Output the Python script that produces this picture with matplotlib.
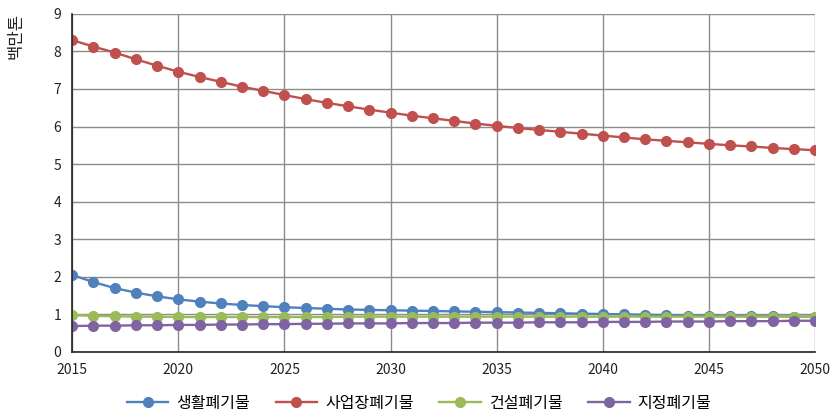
import numpy as np
import matplotlib.pyplot as plt

plt.rcParams['font.family'] = ['Noto Sans CJK KR', 'DejaVu Sans']

years = list(range(2015, 2051))

# 연도별 폐기물 발생량 전망 (백만톤)
saenghwal = [2.05, 1.86, 1.70, 1.58, 1.48, 1.40, 1.34, 1.29, 1.25, 1.22,
             1.19, 1.17, 1.15, 1.13, 1.12, 1.11, 1.10, 1.09, 1.08, 1.07,
             1.06, 1.05, 1.04, 1.03, 1.02, 1.01, 1.00, 0.99, 0.98, 0.97,
             0.96, 0.96, 0.95, 0.95, 0.94, 0.94]
saeopjang = [8.30, 8.13, 7.97, 7.79, 7.62, 7.46, 7.32, 7.19, 7.06, 6.95,
             6.84, 6.73, 6.63, 6.54, 6.45, 6.37, 6.29, 6.22, 6.15, 6.08,
             6.02, 5.96, 5.91, 5.86, 5.81, 5.76, 5.71, 5.66, 5.62, 5.58,
             5.54, 5.50, 5.47, 5.43, 5.40, 5.37]
geonseol = [0.98, 0.96, 0.95, 0.94, 0.94, 0.93, 0.93, 0.93, 0.93, 0.93,
            0.93, 0.93, 0.93, 0.94, 0.94, 0.94, 0.94, 0.94, 0.94, 0.94,
            0.94, 0.94, 0.94, 0.94, 0.94, 0.94, 0.94, 0.94, 0.94, 0.94,
            0.94, 0.94, 0.94, 0.94, 0.94, 0.94]
jijeong = [0.69, 0.70, 0.70, 0.71, 0.71, 0.72, 0.72, 0.73, 0.73, 0.74,
           0.74, 0.75, 0.75, 0.76, 0.76, 0.76, 0.77, 0.77, 0.77, 0.78,
           0.78, 0.78, 0.79, 0.79, 0.79, 0.80, 0.80, 0.80, 0.81, 0.81,
           0.81, 0.82, 0.82, 0.82, 0.83, 0.83]

labels = ['생활폐기물', '사업장폐기물', '건설폐기물', '지정폐기물']
colors = ['#4F81BD', '#C0504D', '#9BBB59', '#8064A2']

fig = plt.figure(figsize=(8.3, 4.2), dpi=100)
ax = fig.add_axes([0.087, 0.162, 0.895, 0.805])

for vals, lab, col in zip([saenghwal, saeopjang, geonseol, jijeong], labels, colors):
    ax.plot(years, vals, color=col, linewidth=1.7, marker='o',
            markersize=7, label=lab)

ax.set_xlim(2015, 2050)
ax.set_ylim(0, 9)
ax.set_xticks(range(2015, 2051, 5))
ax.set_yticks(range(0, 10))
ax.grid(True, color='#8c8c8c', linewidth=1)
ax.set_axisbelow(True)
ax.tick_params(length=0, labelsize=10, colors='#222222', pad=8)
for s in ['top', 'right']:
    ax.spines[s].set_visible(False)
for s in ['left', 'bottom']:
    ax.spines[s].set_color('#222222')
    ax.spines[s].set_linewidth(1.2)

fig.text(0.019, 0.915, '백만톤', rotation=90, ha='center', va='center',
         fontsize=12, color='#222222')

fig.legend(loc='lower center', bbox_to_anchor=(0.505, -0.015), ncol=4,
           frameon=False, fontsize=11.5, handlelength=2.6,
           handletextpad=0.5, columnspacing=1.6)

fig.savefig('out.png', dpi=100)
